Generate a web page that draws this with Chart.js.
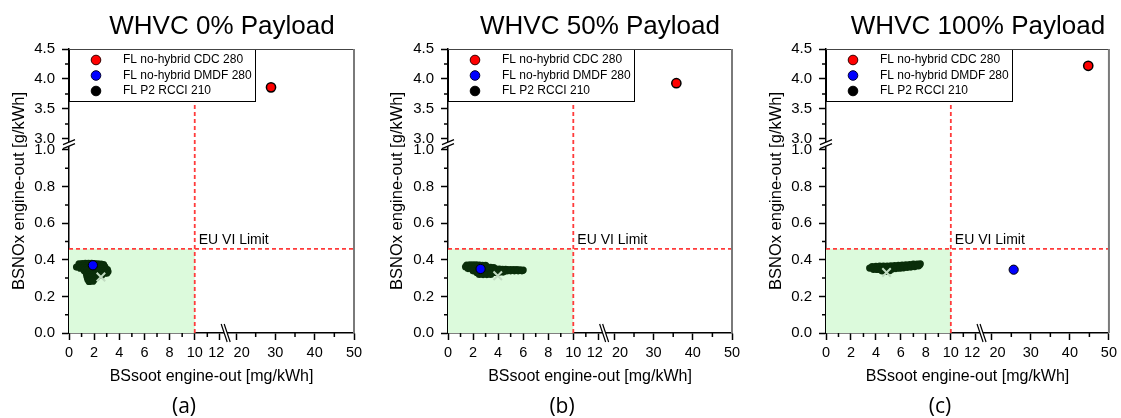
<!DOCTYPE html>
<html><head><meta charset="utf-8">
<script src="https://cdn.jsdelivr.net/npm/chart.js@4.4.1/dist/chart.umd.min.js"></script>
<style>
html,body{margin:0;padding:0;background:#fff;width:1121px;height:418px;overflow:hidden;position:relative;font-family:"Liberation Sans",Arial,sans-serif}
canvas{position:absolute;top:0}
.t{position:absolute;top:10px;font-size:26px;line-height:30px;white-space:nowrap;transform:translateX(-50%);color:#000}
.l{position:absolute;top:392px;font-family:"Open Sans","Noto Sans",sans-serif;font-size:21px;line-height:26px;transform:translateX(-50%);color:#000}
</style></head><body>
<canvas id="c0" width="378" height="418" style="left:0px"></canvas>
<canvas id="c1" width="378" height="418" style="left:378px"></canvas>
<canvas id="c2" width="364" height="418" style="left:757px"></canvas>
<div class="t" style="left:222px">WHVC 0% Payload</div>
<div class="t" style="left:600px">WHVC 50% Payload</div>
<div class="t" style="left:978px">WHVC 100% Payload</div>
<div class="l" style="left:184px">(a)</div>
<div class="l" style="left:562px">(b)</div>
<div class="l" style="left:940px">(c)</div>
<script>
// ---------------- data ----------------
const panelTitles = ['WHVC 0% Payload', 'WHVC 50% Payload', 'WHVC 100% Payload'];
const seriesNames = ['FL no-hybrid CDC 280', 'FL no-hybrid DMDF 280', 'FL P2 RCCI 210'];
const xMajorTicks = [0, 2, 4, 6, 8, 10, 12, 20, 30, 40, 50];
const xMinorTicks = [1, 3, 5, 7, 9, 11, 25, 35, 45];
const yMajorTicks = [0, 0.2, 0.4, 0.6, 0.8, 1.0, 3.0, 3.5, 4.0, 4.5];
const yMinorTicks = [0.1, 0.3, 0.5, 0.7, 0.9, 3.25, 3.75, 4.25];
const euLimitSoot = 10;     // mg/kWh
const euLimitNOx = 0.46;    // g/kWh

// CDC 280 (soot, NOx) per panel
const cdcSoot = [28.9, 35.8, 44.7];
const cdcNOx  = [3.86, 3.93, 4.22];
// DMDF 280 per panel
const dmdfSoot = [1.9, 2.6, 25.6];
const dmdfNOx  = [0.37, 0.35, 0.346];
// RCCI mean (X marker) per panel
const rcciMeanSoot = [2.54, 3.97, 4.85];
const rcciMeanNOx  = [0.306, 0.313, 0.331];
// RCCI cloud, panel a (0 %)
const rcciSootA = [0.8,1.05,1.3,1.55,1.8,2.05,2.3,2.55,2.75,
  0.6,0.85,1.1,1.35,1.6,1.85,2.1,2.35,2.6,2.85,
  0.9,1.15,1.4,1.65,1.9,2.15,2.4,2.65,2.9,3.05,
  1.2,1.45,1.7,1.95,2.2,2.45,2.7,2.95,3.1,
  1.35,1.6,1.85,2.1,2.35,2.6,2.85,3.0,
  1.4,1.65,1.9,2.15,2.4,2.6,
  1.45,1.7,1.95,2.2,
  1.5,1.75,2.0,
  1.6,1.9];
const rcciNOxA  = [0.378,0.379,0.380,0.380,0.380,0.379,0.378,0.376,0.374,
  0.360,0.366,0.367,0.367,0.367,0.366,0.366,0.365,0.364,0.362,
  0.354,0.355,0.355,0.355,0.354,0.354,0.353,0.352,0.350,0.347,
  0.342,0.342,0.342,0.342,0.342,0.341,0.340,0.338,0.336,
  0.330,0.330,0.330,0.330,0.330,0.329,0.328,0.327,
  0.318,0.318,0.318,0.318,0.317,0.316,
  0.305,0.305,0.305,0.304,
  0.292,0.292,0.293,
  0.282,0.283];
// RCCI cloud, panel b (50 %)
const rcciSootB = [1.5,1.75,2.0,2.25,2.5,2.75,3.0,
  1.4,1.65,1.9,2.15,2.4,2.65,2.9,3.15,3.4,3.65,
  1.6,1.85,2.1,2.35,2.6,2.85,3.1,3.35,3.6,3.85,4.1,4.35,4.6,
  4.0,4.25,4.5,4.75,5.0,5.25,5.5,5.75,6.0,
  2.0,2.3,2.6,2.9,3.2,3.5,3.8,4.1,4.4,4.7,5.0,5.3,5.6,5.9,
  2.3,2.6,2.9,3.2,3.5,3.8,4.1,4.4,
  2.5,2.8,3.1,3.4];
const rcciNOxB  = [0.371,0.372,0.372,0.372,0.371,0.370,0.369,
  0.362,0.363,0.363,0.363,0.362,0.362,0.361,0.360,0.359,0.358,
  0.352,0.352,0.352,0.352,0.352,0.351,0.351,0.350,0.350,0.349,0.349,0.348,0.348,
  0.345,0.345,0.345,0.346,0.346,0.346,0.346,0.345,0.344,
  0.340,0.340,0.340,0.339,0.339,0.339,0.339,0.339,0.339,0.339,0.340,0.340,0.340,0.340,
  0.330,0.329,0.329,0.329,0.330,0.331,0.332,0.333,
  0.320,0.319,0.319,0.320];
// RCCI cloud, panel c (100 %)
const rcciSootC = [3.5,3.75,4.0,4.25,4.5,4.75,5.0,5.25,5.5,5.75,6.0,6.25,6.5,6.75,7.0,7.25,7.5,
  3.7,4.0,4.3,4.6,4.9,5.2,5.5,5.8,6.1,6.4,6.7,7.0,7.3,7.55,
  3.8,4.1,4.4,4.7,5.0,5.3,5.6,5.9,6.2,6.5,6.8,7.1,7.4,
  4.5,4.8,5.1];
const rcciNOxC  = [0.355,0.356,0.357,0.357,0.358,0.358,0.359,0.360,0.361,0.362,0.363,0.364,0.366,0.367,0.369,0.371,0.373,
  0.363,0.364,0.365,0.366,0.366,0.367,0.368,0.369,0.371,0.372,0.374,0.376,0.377,0.378,
  0.348,0.347,0.346,0.346,0.348,0.350,0.352,0.354,0.356,0.358,0.360,0.363,0.366,
  0.339,0.337,0.341];
const rcciSoot = [rcciSootA, rcciSootB, rcciSootC];
const rcciNOx  = [rcciNOxA, rcciNOxB, rcciNOxC];

// ---------------- broken linear scale ----------------
class BrokenScale extends Chart.LinearScale {
  _dec(v) {
    const b = this.options.brk, mn = this.min, mx = this.max;
    if (v <= b.lowMax) return (v - mn) / (b.lowMax - mn) * b.frac;
    if (v >= b.highMin) return b.frac + (v - b.highMin) / (mx - b.highMin) * (1 - b.frac);
    return b.frac;
  }
  getPixelForValue(v) {
    if (v === null || v === undefined || isNaN(v)) return NaN;
    return this.getPixelForDecimal(this._dec(v));
  }
  getValueForPixel(p) {
    const d = this.getDecimalForPixel(p), b = this.options.brk;
    if (d <= b.frac) return this.min + d / b.frac * (b.lowMax - this.min);
    return b.highMin + (d - b.frac) / (1 - b.frac) * (this.max - b.highMin);
  }
}
BrokenScale.id = 'broken';
BrokenScale.defaults = {};
Chart.register(BrokenScale);

const FONT = '"Liberation Sans", Arial, sans-serif';
const limitColor = '#ff3b3b';
const cloudColor = '#0a2e0a';

const decorPlugin = {
  id: 'decor',
  beforeDatasetsDraw(chart) {
    const {ctx, scales: {x, y}} = chart;
    const x0 = x.getPixelForValue(0), x1 = x.getPixelForValue(euLimitSoot);
    const y0 = y.getPixelForValue(0), y1 = y.getPixelForValue(euLimitNOx);
    ctx.save();
    ctx.fillStyle = '#dcfadc';
    ctx.fillRect(x0, y1, x1 - x0, y0 - y1);
    ctx.restore();
  },
  afterDatasetsDraw(chart) {
    const {ctx, chartArea: a, scales: {x, y}} = chart;
    ctx.save();
    ctx.fillStyle = '#000';
    ctx.font = '14px ' + FONT;
    ctx.textBaseline = 'middle';
    ctx.textAlign = 'left';
    ctx.fillText('EU VI Limit', x.getPixelForValue(euLimitSoot) + 4, y.getPixelForValue(euLimitNOx) - 9);
    const lx = a.left + 0.5, ly = a.top + 0.5, lw = 186, lh = 52;
    ctx.fillStyle = '#fff';
    ctx.fillRect(lx, ly, lw, lh);
    ctx.strokeStyle = '#000';
    ctx.lineWidth = 1;
    ctx.strokeRect(lx, ly, lw, lh);
    const cols = [['#ff0000', '#300'], ['#0000ff', '#003'], ['#000000', '#000']];
    ctx.font = '12px ' + FONT;
    seriesNames.forEach((n, i) => {
      const yy = a.top + 11 + i * 15.5;
      ctx.beginPath();
      ctx.arc(a.left + 27, yy, 4.8, 0, Math.PI * 2);
      ctx.fillStyle = cols[i][0];
      ctx.fill();
      ctx.lineWidth = 1;
      ctx.strokeStyle = cols[i][1];
      ctx.stroke();
      ctx.fillStyle = '#000';
      ctx.fillText(n, a.left + 54, yy);
    });
    ctx.restore();
  },
  afterDraw(chart) {
    const {ctx, chartArea: a, scales: {x, y}} = chart;
    ctx.save();
    ctx.strokeStyle = '#444';
    ctx.lineWidth = 1;
    ctx.beginPath(); ctx.moveTo(a.left, a.top + 0.5); ctx.lineTo(a.right, a.top + 0.5); ctx.stroke();
    ctx.strokeStyle = '#7a7a7a';
    ctx.lineWidth = 2;
    ctx.beginPath(); ctx.moveTo(a.right, a.top); ctx.lineTo(a.right, a.bottom); ctx.stroke();
    ctx.strokeStyle = '#000';
    ctx.lineWidth = 1.5;
    ctx.beginPath();
    xMinorTicks.forEach(v => { const p = x.getPixelForValue(v); ctx.moveTo(p, a.bottom); ctx.lineTo(p, a.bottom + 4); });
    yMinorTicks.forEach(v => { const p = y.getPixelForValue(v); ctx.moveTo(a.left, p); ctx.lineTo(a.left - 4, p); });
    ctx.stroke();
    const by = y.getPixelForDecimal(y.options.brk.frac), bx = a.left;
    ctx.fillStyle = '#fff';
    ctx.beginPath();
    ctx.moveTo(bx - 6, by + 0.5); ctx.lineTo(bx + 6, by - 4.5); ctx.lineTo(bx + 6, by - 0.5); ctx.lineTo(bx - 6, by + 4.5); ctx.closePath();
    ctx.fill();
    ctx.lineWidth = 1.2;
    ctx.beginPath();
    ctx.moveTo(bx - 6, by + 0.5); ctx.lineTo(bx + 6, by - 4.5);
    ctx.moveTo(bx - 6, by + 4.5); ctx.lineTo(bx + 6, by - 0.5);
    ctx.stroke();
    const px = x.getPixelForDecimal(x.options.brk.frac), py = a.bottom;
    ctx.beginPath();
    ctx.moveTo(px - 5, py - 9); ctx.lineTo(px + 1, py + 9); ctx.lineTo(px + 4, py + 9); ctx.lineTo(px - 2, py - 9); ctx.closePath();
    ctx.fill();
    ctx.beginPath();
    ctx.moveTo(px - 5, py - 9); ctx.lineTo(px + 1, py + 9);
    ctx.moveTo(px - 2, py - 9); ctx.lineTo(px + 4, py + 9);
    ctx.stroke();
    ctx.restore();
  }
};

const layouts = [
  {yw: 69, right: 24},
  {yw: 70, right: 24},
  {yw: 69, right: 11}
];

// labels beside the axis break are nudged apart, as in the original
const xTickText = v => (v === 12 ? '12\u2002' : v === 20 ? '\u2002 20' : String(v));

function makePanel(i) {
  const pts = (xs, ys) => xs.map((v, k) => ({x: v, y: ys[k]}));
  new Chart(document.getElementById('c' + i), {
    type: 'scatter',
    data: {
      datasets: [
        {label: seriesNames[0], data: [{x: cdcSoot[i], y: cdcNOx[i]}], backgroundColor: '#ff0000', borderColor: '#000', borderWidth: 1.5, pointRadius: 4.6},
        {label: seriesNames[1], data: [{x: dmdfSoot[i], y: dmdfNOx[i]}], backgroundColor: '#0000ff', borderColor: '#000', borderWidth: 1, pointRadius: 4.6},
        {label: 'RCCI mean', data: [{x: rcciMeanSoot[i], y: rcciMeanNOx[i]}], pointStyle: 'crossRot', pointRadius: 6, borderColor: '#c2dcc2', borderWidth: 2},
        {label: seriesNames[2], data: pts(rcciSoot[i], rcciNOx[i]), backgroundColor: cloudColor, borderWidth: 0, pointRadius: 3.6},
        {type: 'line', label: 'EU VI soot', data: [{x: euLimitSoot, y: 0}, {x: euLimitSoot, y: 4.5}], borderColor: limitColor, borderDash: [4, 3], borderWidth: 1.8, pointRadius: 0, fill: false},
        {type: 'line', label: 'EU VI NOx', data: [{x: 0, y: euLimitNOx}, {x: 50, y: euLimitNOx}], borderColor: limitColor, borderDash: [4, 3], borderWidth: 1.8, pointRadius: 0, fill: false}
      ]
    },
    options: {
      responsive: false,
      animation: false,
      events: [],
      layout: {padding: {top: 49, right: layouts[i].right, bottom: 0, left: 0}},
      plugins: {legend: {display: false}, tooltip: {enabled: false}, title: {display: false}},
      scales: {
        x: {
          type: 'broken', min: 0, max: 50,
          brk: {lowMax: 12.5, highMin: 17.5, frac: 0.5515},
          afterBuildTicks: s => { s.ticks = xMajorTicks.map(v => ({value: v})); },
          afterFit: s => { s.height = 85; },
          grid: {display: true, drawOnChartArea: false, drawTicks: true, tickLength: 7, tickColor: '#000', tickWidth: 1.5},
          border: {display: true, color: '#000', width: 1.5},
          ticks: {autoSkip: false, maxRotation: 0, minRotation: 0, padding: 4, color: '#000', font: {family: FONT, size: 14.5}, callback: xTickText},
          title: {display: true, text: 'BSsoot engine-out [mg/kWh]', color: '#000', font: {family: FONT, size: 16}, padding: {top: 0, bottom: 32}}
        },
        y: {
          type: 'broken', min: 0, max: 4.5,
          brk: {lowMax: 1.032, highMin: 2.913, frac: 0.665},
          afterBuildTicks: s => { s.ticks = yMajorTicks.map(v => ({value: v})); },
          afterFit: s => { s.width = layouts[i].yw; },
          grid: {display: true, drawOnChartArea: false, drawTicks: true, tickLength: 7, tickColor: '#000', tickWidth: 1.5},
          border: {display: true, color: '#000', width: 1.5},
          ticks: {autoSkip: false, padding: 7, color: '#000', font: {family: FONT, size: 15}, callback: v => v.toFixed(1)},
          title: {display: true, text: 'BSNOx engine-out [g/kWh]', color: '#000', font: {family: FONT, size: 16.5}, padding: {top: 10, bottom: 0}}
        }
      }
    },
    plugins: [decorPlugin]
  });
}
[0, 1, 2].forEach(makePanel);
</script>
</body></html>
